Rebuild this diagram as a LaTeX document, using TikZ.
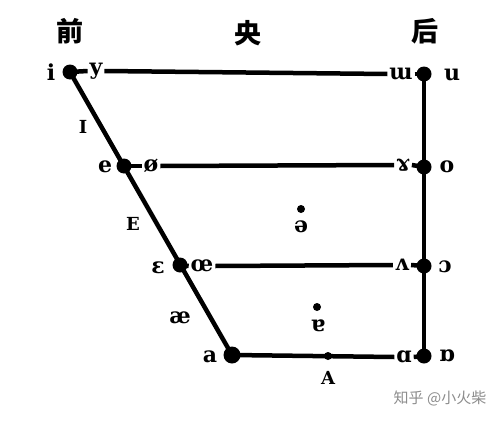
\documentclass[tikz,border=0pt]{standalone}
\usepackage{fontspec}
\setmainfont{DejaVu Serif}[BoldFont={DejaVu Serif Bold}]
\newfontfamily\cjk{Noto Sans CJK SC}[BoldFont={Noto Sans CJK SC Black}]
\tikzset{
  ipa/.style={font=\fontsize{22}{22}\selectfont\bfseries, inner sep=0pt, outer sep=2pt},
  sc/.style={font=\fontsize{18}{18}\selectfont\bfseries, inner sep=0pt},
  head/.style={font=\cjk\fontsize{27}{27}\selectfont\bfseries, inner sep=0pt},
  bigdot/.style={circle, fill=black, minimum size=15pt, inner sep=0pt},
  smalldot/.style={circle, fill=black, minimum size=8pt, inner sep=0pt},
  tinydot/.style={circle, fill=black, minimum size=8pt, inner sep=0pt},
  edge/.style={line width=4.5pt},
}
\begin{document}
\begin{tikzpicture}[x=1pt,y=-1pt]
\useasboundingbox (0,0) rectangle (500,420);
% headings
\node[head] (front) at (70,31) {前};
\node[head] (central) at (248,33) {央};
\node[head] (back) at (425,31) {后};
% dots
\node[bigdot] (di) at (70,72) {};
\node[bigdot] (du) at (424,74) {};
\node[bigdot] (de) at (124,166) {};
\node[bigdot] (do) at (424,167) {};
\node[bigdot] (deps) at (180,265) {};
\node[bigdot] (dopen) at (424,266) {};
\node[bigdot,minimum size=17pt] (da) at (232,355) {};
\node[bigdot] (dback) at (424,356) {};
% labels
\node[ipa] (li) at (51,72) {i};
\node[ipa] (ly) at (96,71) {y};
\node[ipa] (lw) at (401,74) {ɯ};
\node[ipa] (lu) at (452,75) {u};
\node[ipa] (le) at (105,167) {e};
\node[ipa] (lo2) at (151,166) {ø};
\node[ipa] (lr) at (403,165) {ɤ};
\node[ipa] (lo) at (447,167) {o};
\node[ipa] (lE) at (158,268) {ɛ};
\node[ipa] (loe) at (202,266) {œ};
\node[ipa] (lv) at (402,265) {ʌ};
\node[ipa] (lc) at (445,267) {ɔ};
\node[ipa] (la) at (210,357) {a};
\node[ipa] (lal) at (404,357) {ɑ};
\node[ipa] (lbo) at (447,356) {ɒ};
\node[ipa] (lschwa) at (301,227) {ə};
\node[smalldot] (dschwa) at (301,209) {};
\node[ipa] (lturn) at (318,326) {ɐ};
\node[smalldot] (dturn) at (317,307) {};
\node[tinydot] (dA) at (328,356) {};
\node[sc] (lA) at (328,378) {A};
\node[sc] (lI) at (83,127) {I};
\node[sc] (lEE) at (133,224) {E};
\node[ipa] (lae) at (180,318) {æ};
% lines
\draw[edge] (di.center) -- (da.center);
\draw[edge] (du.center) -- (dback.center);
\draw[edge] (di.center) -- (ly.west);
\draw[edge] (ly.east) -- (lw.west);
\draw[edge] (lw.east) -- (du.center);
\draw[edge] (de.center) -- (lo2.west);
\draw[edge] (lo2.east) -- (lr.west);
\draw[edge] (lr.east) -- (do.center);
\draw[edge] (loe.east) -- (lv.west);
\draw[edge] (lv.east) -- (dopen.center);
\draw[edge] (deps.center) -- (loe.west);
\draw[edge] (da.center) -- (lal.west);
\draw[edge] (lal.east) -- (dback.center);
% watermark
\node[font=\cjk\fontsize{15}{15}\selectfont, text=black!45, inner sep=0pt] (wm) at (440,398) {知乎 @小火柴};
\end{tikzpicture}
\end{document}
